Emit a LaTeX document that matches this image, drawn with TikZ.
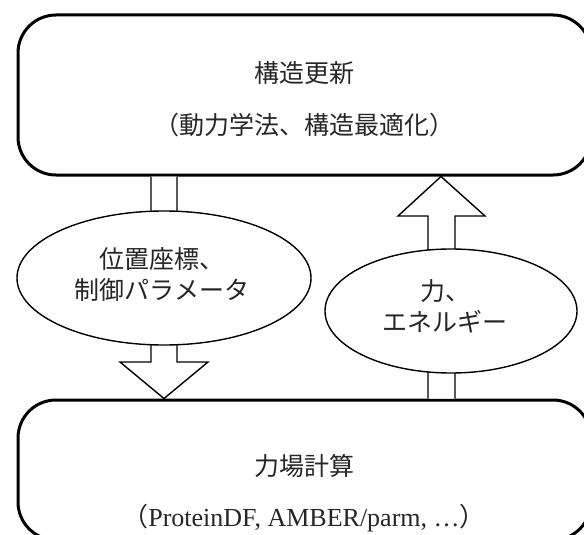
\documentclass[tikz,border=0pt]{standalone}
\usepackage{fontspec}
\setmainfont{Liberation Serif}
\newfontfamily\jp{Noto Sans CJK JP}
\usetikzlibrary{shapes.geometric,calc}
\begin{document}
\begin{tikzpicture}[x=1pt,y=-1pt,
  box/.style={draw, line width=3pt, rounded corners=38pt, inner sep=0pt},
  oval/.style={draw, ellipse, line width=1.4pt, fill=white, inner sep=0pt},
  blk/.style={draw, line width=1.4pt, fill=white, line join=miter},
  txt/.style={inner sep=0pt, text=black!85, font=\jp\fontsize{25}{31}\selectfont, align=center},
]
\useasboundingbox (0,0) rectangle (584,535);
% boxes
\node[box, minimum width=573pt, minimum height=160pt] (top) at (304.5,95) {};
\node[box, minimum width=573pt, minimum height=140pt] (bot) at (304.5,470) {};
% block arrows
\coordinate (la) at (164,0);
\coordinate (ra) at (441,0);
\draw[blk] (top.south -| 151,0) -- (151,362) -- (120,362) -- (bot.north -| la) -- (208,362) -- (177,362) -- (top.south -| 177,0);
\draw[blk] (bot.north -| 428,0) -- (428,216) -- (398,216) -- (top.south -| ra) -- (485,216) -- (455,216) -- (bot.north -| 455,0);
% ellipses
\node[oval, minimum width=294pt, minimum height=134pt] (pos) at (164,278) {};
\node[oval, minimum width=252pt, minimum height=124pt] (frc) at (451,311) {};
\node[txt] (posT) at (162,274) {位置座標、\\制御パラメータ};
\node[txt] (frcT) at (445,306) {力、\\エネルギー};
% texts
\node[txt] (t1) at (304,73) {構造更新};
\node[txt] (t2) at (304,125) {（動力学法、構造最適化）};
\node[txt] (b1) at (304,466) {力場計算};
\node[txt, font=\fontsize{26}{30}\selectfont] (b2) at (304,518) {{\jp （}ProteinDF, AMBER/parm, …{\jp ）}};
\end{tikzpicture}
\end{document}
